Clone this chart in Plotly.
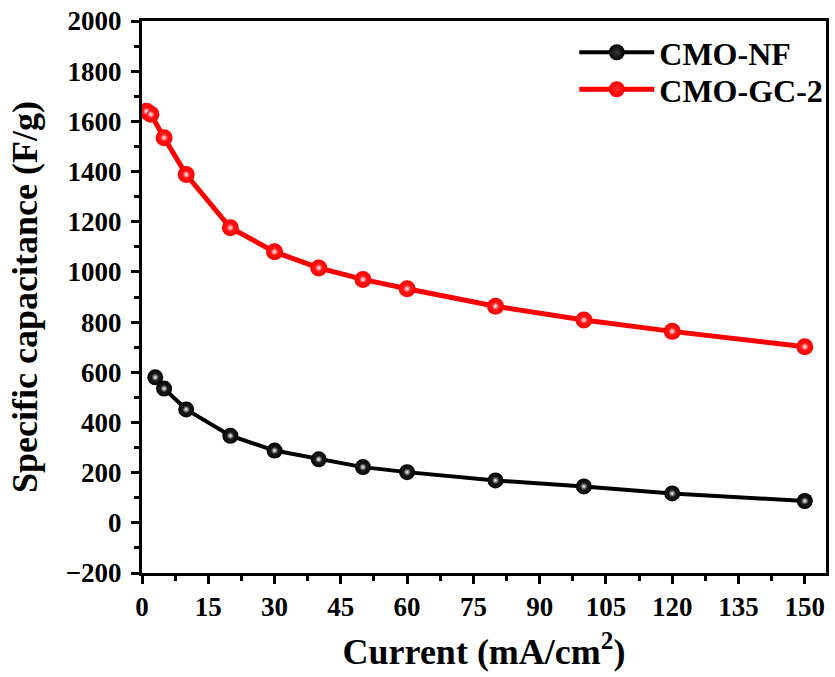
import plotly.graph_objects as go

# Current density (mA/cm^2) and specific capacitance (F/g)
current_nf = [3, 5, 10, 20, 30, 40, 50, 60, 80, 100, 120, 150]
cap_nf = [580, 535, 452, 347, 288, 253, 222, 202, 169, 145, 117, 87]

current_gc = [1, 2, 5, 10, 20, 30, 40, 50, 60, 80, 100, 120, 150]
cap_gc = [1640, 1628, 1535, 1388, 1176, 1080, 1016, 970, 933, 863, 808, 763, 702]

x_ticks = list(range(0, 151, 15))
y_ticks = list(range(-200, 2001, 200))

FONT = "Liberation Serif"


def add_series(fig, x, y, name, color, glow, lw, size, legend):
    # solid ball with the connecting line
    fig.add_trace(go.Scatter(
        x=x, y=y, name=name, mode="lines+markers", legend=legend,
        line=dict(color=color, width=lw),
        marker=dict(size=size, color=color,
                    gradient=dict(type="radial", color=glow),
                    line=dict(width=0)),
    ))
    # small bright highlight on each ball
    fig.add_trace(go.Scatter(
        x=x, y=y, mode="markers", showlegend=False, hoverinfo="skip",
        marker=dict(size=8, color=color,
                    gradient=dict(type="radial", color="white"),
                    line=dict(width=0)),
    ))


fig = go.Figure()
add_series(fig, current_nf, cap_nf, "CMO-NF", "black", "#3a3a3a", 4, 16, "legend")
add_series(fig, current_gc, cap_gc, "CMO-GC-2", "#ff0000", "#ff2a2a", 5, 17, "legend2")

axis_common = dict(
    showline=True, linecolor="black", linewidth=3, mirror=True,
    ticks="outside", ticklen=8, tickwidth=3, tickcolor="black",
    showgrid=False, zeroline=False,
    tickfont=dict(family=FONT, size=27, color="black", weight="bold"),
)

fig.update_xaxes(
    range=[0, 154.8], tickvals=x_ticks,
    minor=dict(ticks="outside", dtick=7.5, ticklen=5, tickwidth=3, tickcolor="black"),
    title=dict(text="Current (mA/cm<sup>2</sup>)", standoff=18,
               font=dict(family=FONT, size=36, color="black", weight="bold")),
    **axis_common,
)
fig.update_yaxes(
    range=[-200, 2000], tickvals=y_ticks, ticklabelstandoff=4,
    minor=dict(ticks="outside", dtick=100, ticklen=5, tickwidth=3, tickcolor="black"),
    title=dict(text="Specific capacitance (F/g)", standoff=18,
               font=dict(family=FONT, size=36, color="black", weight="bold")),
    **axis_common,
)

legend_style = dict(
    xanchor="left", yanchor="middle", bgcolor="rgba(0,0,0,0)", borderwidth=0,
    font=dict(family=FONT, size=32, color="black", weight="bold"),
    itemwidth=75,
)

fig.update_layout(
    width=835, height=677,
    margin=dict(l=142, r=6, t=18, b=104),
    plot_bgcolor="white", paper_bgcolor="white",
    legend=dict(x=0.632, y=0.943, **legend_style),
    legend2=dict(x=0.632, y=0.876, **legend_style),
)

fig.write_html("out.html")
